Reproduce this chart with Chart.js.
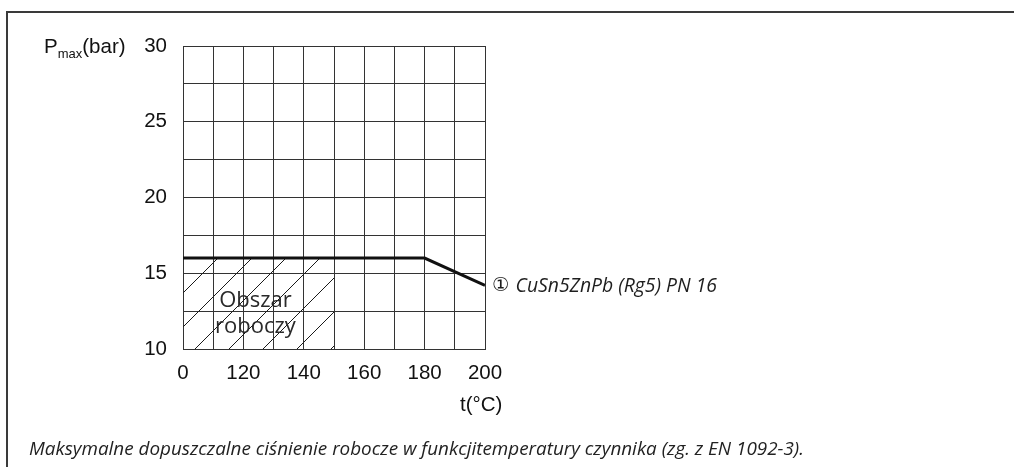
<!DOCTYPE html>
<html>
<head>
<meta charset="utf-8">
<script src="https://cdn.jsdelivr.net/npm/chart.js"></script>
<style>
  html, body { margin: 0; padding: 0; background: #fff; }
  #wrap { position: relative; width: 1014px; height: 467px; overflow: hidden; }
  #frame { position: absolute; left: 6px; top: 11px; right: -10px; bottom: -10px;
           border-top: 2px solid #3a3a3a; border-left: 2px solid #3a3a3a; }
  canvas { position: absolute; left: 0; top: 0; }
  .lbl { position: absolute; font-family: "Liberation Sans", Arial, sans-serif; font-size: 20.5px; color: #111; white-space: nowrap; }
  .lbl sub { font-size: 13px; vertical-align: -5px; line-height: 0; }
  #caption { position: absolute; left: 29px; top: 435px; font-family: "Open Sans", sans-serif;
             font-style: italic; color: #222; white-space: nowrap; }
</style>
</head>
<body>
<div id="wrap">
  <div id="frame"></div>
  <canvas id="chart" width="1014" height="467"></canvas>
  <div class="lbl" id="ylab" style="left:44px; top:34px;">P<sub>max</sub>(bar)</div>
  <div class="lbl" id="xlab" style="left:460px; top:392px;">t(°C)</div>
  <div id="caption">Maksymalne dopuszczalne ciśnienie robocze w funkcjitemperatury czynnika (zg. z EN 1092-3).</div>
</div>
<script>
// axis ticks (x axis is broken: first column starts at 100 but is labelled 0)
const xTickValues = [100, 120, 140, 160, 180, 200];
const xTickLabels = ['0', '120', '140', '160', '180', '200'];
const yTickValues = [10, 15, 20, 25, 30];

// pressure curve CuSn5ZnPb (Rg5) PN 16
const curveT = [100, 180, 200];
const curveP = [16, 16, 14.2];

// working area (hatched)
const areaT = [100, 150];
const areaP = [16, 16];

const seriesLabel = 'CuSn5ZnPb (Rg5) PN 16';
const areaText = ['Obszar', 'roboczy'];

const gridColor = '#333';

function makeHatch() {
  const c = document.createElement('canvas');
  c.width = 34; c.height = 34;
  const g = c.getContext('2d');
  g.strokeStyle = '#1a1a1a';
  g.lineWidth = 1;
  g.beginPath();
  g.moveTo(0, 34); g.lineTo(34, 0);
  g.moveTo(-17, 17); g.lineTo(17, -17);
  g.moveTo(17, 51); g.lineTo(51, 17);
  g.stroke();
  return g.createPattern(c, 'repeat');
}

const labelsPlugin = {
  id: 'labels',
  afterDatasetsDraw(chart) {
    const { ctx, scales: { x, y } } = chart;
    ctx.save();
    // text inside the working area
    ctx.fillStyle = '#2a2a2a';
    ctx.font = '22px "Open Sans", sans-serif';
    ctx.textAlign = 'center';
    ctx.textBaseline = 'middle';
    const cx = x.getPixelForValue((areaT[0] + areaT[1]) / 2) - 3;
    const cy = y.getPixelForValue(12.33);
    ctx.fillText(areaText[0], cx, cy - 13);
    ctx.fillText(areaText[1], cx, cy + 13);

    // series label at end of curve, fitted to ~225px
    const last = curveT.length - 1;
    let px = x.getPixelForValue(curveT[last]) + 7;
    const py = y.getPixelForValue(curveP[last]) + 1;
    ctx.font = 'italic 18px "Open Sans", sans-serif';
    const tw = ctx.measureText(seriesLabel).width;
    ctx.font = '18px "DejaVu Sans", sans-serif';
    const cw = ctx.measureText('\u2460 ').width;
    const f = 18 * 225 / (tw + cw);
    ctx.textAlign = 'left';
    ctx.fillStyle = '#1e1e1e';
    ctx.font = f.toFixed(2) + 'px "DejaVu Sans", sans-serif';
    ctx.fillText('\u2460', px, py);
    px += ctx.measureText('\u2460 ').width;
    ctx.font = 'italic ' + f.toFixed(2) + 'px "Open Sans", sans-serif';
    ctx.fillText(seriesLabel, px, py);
    ctx.restore();
  }
};

new Chart(document.getElementById('chart'), {
  type: 'line',
  data: {
    datasets: [
      {
        data: curveT.map((t, i) => ({ x: t, y: curveP[i] })),
        borderColor: '#111',
        borderWidth: 3,
        pointRadius: 0,
        fill: false,
        order: 1
      },
      {
        data: areaT.map((t, i) => ({ x: t, y: areaP[i] })),
        borderWidth: 0,
        borderColor: 'rgba(0,0,0,0)',
        backgroundColor: makeHatch(),
        pointRadius: 0,
        fill: 'start',
        order: 2
      }
    ]
  },
  options: {
    responsive: false,
    animation: false,
    layout: { padding: { left: 143, right: 529, top: 46, bottom: 78 } },
    plugins: { legend: { display: false }, tooltip: { enabled: false } },
    scales: {
      x: {
        type: 'linear',
        min: 100, max: 200,
        afterFit: s => { s.height = 40; },
        grid: { color: gridColor, lineWidth: 1, drawTicks: false },
        border: { color: gridColor, width: 1 },
        ticks: {
          stepSize: 10, autoSkip: false, maxRotation: 0, padding: 12,
          color: '#111',
          font: { family: '"Liberation Sans", Arial, sans-serif', size: 20.5 },
          callback: v => {
            const i = xTickValues.indexOf(v);
            return i >= 0 ? xTickLabels[i] : '';
          }
        }
      },
      y: {
        min: 10, max: 30,
        afterFit: s => { s.width = 40; },
        grid: { color: gridColor, lineWidth: 1, drawTicks: false },
        border: { color: gridColor, width: 1 },
        ticks: {
          stepSize: 2.5, autoSkip: false, padding: 16,
          color: '#111',
          font: { family: '"Liberation Sans", Arial, sans-serif', size: 20.5 },
          callback: v => yTickValues.includes(v) ? String(v) : ''
        }
      }
    }
  },
  plugins: [labelsPlugin]
});

// fit the caption to the width it has in the reference
(function () {
  const cap = document.getElementById('caption');
  const m = document.createElement('canvas').getContext('2d');
  m.font = 'italic 16px "Open Sans"';
  const w = m.measureText(cap.textContent).width;
  cap.style.fontSize = (16 * 776 / w).toFixed(2) + 'px';
})();
</script>
</body>
</html>
